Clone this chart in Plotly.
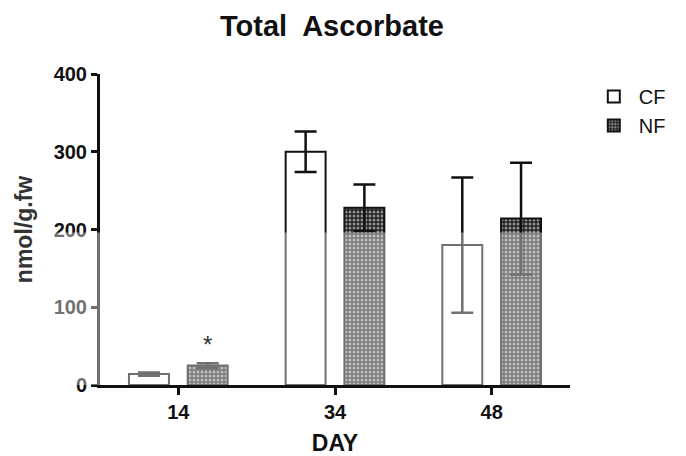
import plotly.graph_objects as go

days = ["14", "34", "48"]
cf_vals = [14, 300, 180]
cf_err = [2, 26, 87]
nf_vals = [25, 228, 214]
nf_err = [3, 30, 72]
y_ticks = [0, 100, 200, 300, 400]
star_day_index = 0  # significance mark on NF, day 14

fig = go.Figure()
fig.add_trace(go.Bar(
    x=days, y=cf_vals, name="CF",
    marker=dict(color="white", line=dict(color="#111", width=2)),
    error_y=dict(type="data", array=cf_err, color="#111", thickness=2.5, width=11),
))
fig.add_trace(go.Bar(
    x=days, y=nf_vals, name="NF",
    marker=dict(color="#222", line=dict(color="#111", width=2),
                pattern=dict(shape=".", fgcolor="white", bgcolor="#222", size=4, solidity=0.45)),
    error_y=dict(type="data", array=nf_err, color="#111", thickness=2.5, width=11),
))

fig.add_annotation(x=star_day_index, y=nf_vals[star_day_index] + nf_err[star_day_index] + 4,
                   text="*", showarrow=False, xshift=29, yanchor="bottom",
                   font=dict(size=24, color="#333", family="Liberation Sans"))

# scanned-print look: lower half lighter
fig.add_shape(type="rect", xref="paper", yref="y", x0=-0.3, x1=1.3, y0=-200, y1=196,
              fillcolor="rgba(255,255,255,0.4)", line=dict(width=0), layer="above")

fig.update_layout(
    width=686, height=456,
    margin=dict(l=100, r=116, t=74, b=71),
    plot_bgcolor="white", paper_bgcolor="white",
    font=dict(family="Liberation Sans", color="#111"),
    title=dict(text="<b>Total  Ascorbate</b>", x=0.484, xanchor="center", y=0.943, yanchor="middle",
               font=dict(size=29, color="#111")),
    barmode="group", bargap=0.25, bargroupgap=0.32,
    legend=dict(x=1.04, y=0.99, xanchor="left", yanchor="top", font=dict(size=20, color="#111"),
                tracegroupgap=4, itemwidth=40),
    showlegend=True,
)
fig.update_yaxes(range=[0, 400], tickvals=y_ticks, ticks="outside", ticklen=6, tickwidth=2.5,
                 tickcolor="#111", showline=True, linecolor="#111", linewidth=3, showgrid=False,
                 zeroline=False, automargin=False,
                 tickfont=dict(size=20, color="#111", family="Liberation Sans", weight="bold"),
                 title=dict(text="<b>nmol/g.fw</b>", font=dict(size=23, color="#333")))
fig.update_xaxes(type="category", range=[-0.5, len(days) - 0.5], ticks="outside", ticklen=7,
                 tickwidth=2.5, tickcolor="#111", showline=True,
                 linecolor="#111", linewidth=3, showgrid=False, automargin=False,
                 tickfont=dict(size=20, color="#111", weight="bold"),
                 title=dict(text="<b>DAY</b>", font=dict(size=23, color="#111")))

fig.write_html("out.html")
